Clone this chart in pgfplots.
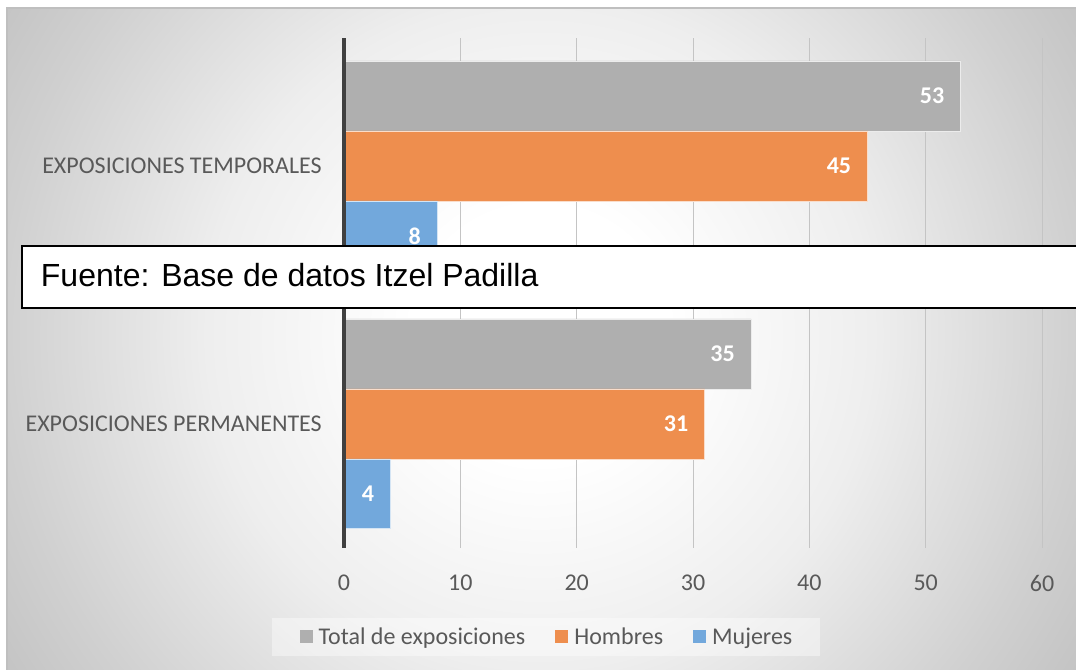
\documentclass[border=0pt]{standalone}
\usepackage{pgfplots}
\pgfplotsset{compat=1.18}
\usepackage{fontspec}
\setmainfont{Carlito}
\newfontfamily\arialf{Liberation Sans}
\definecolor{cgray}{RGB}{175,175,175}
\definecolor{corange}{RGB}{238,142,78}
\definecolor{cblue}{RGB}{114,168,220}
\definecolor{txt}{RGB}{89,89,89}
\definecolor{gridc}{RGB}{196,196,196}
\definecolor{axl}{RGB}{64,64,64}
\definecolor{framec}{RGB}{191,191,191}
\definecolor{bgA}{RGB}{238,238,238}
\definecolor{bgB}{RGB}{208,208,208}
\definecolor{bgC}{RGB}{195,195,195}
\pgfdeclareradialshading{bgshade}{\pgfpoint{0bp}{0bp}}{color(0bp)=(white); color(5bp)=(white); color(13bp)=(bgA); color(21bp)=(bgB); color(25bp)=(bgC); color(50bp)=(bgC)}
\begin{document}
\begin{tikzpicture}
\useasboundingbox (0,0) rectangle (807pt,502.5pt);
\fill[white] (0,0) rectangle (807pt,502.5pt);
\begin{scope}
\clip (5.25pt,0) rectangle (807pt,496.5pt);
\shade[shading=bgshade] (405pt,251.25pt) circle (480pt);
\end{scope}
\draw[framec, line width=1.2pt] (5.25pt,0) -- (5.25pt,496.5pt) -- (807pt,496.5pt);
\begin{axis}[
  at={(258pt,91.5pt)}, anchor=south west,
  scale only axis, width=523.5pt, height=382.5pt,
  xmin=0, xmax=60, ymin=-0.481, ymax=1.496,
  clip=false,
  xbar, bar width=0.2713,
  xtick={0,10,...,60}, ytick={0,1},
  yticklabels={EXPOSICIONES PERMANENTES, EXPOSICIONES TEMPORALES},
  /pgf/number format/assume math mode=true,
  axis line style={draw=none},
  major tick length=0pt, tick style={draw=none},
  xmajorgrids, major grid style={gridc, line width=0.75pt},
  tick label style={font=\fontsize{18}{21.6}\selectfont, text=txt, inner sep=0pt},
  xticklabel style={anchor=center, yshift=-26.25pt},
  yticklabel style={anchor=east, xshift=-16.5pt},
  nodes near coords,
  every node near coord/.append style={font=\fontsize{18}{21.6}\selectfont\bfseries, text=white, anchor=east, inner sep=0pt, xshift=-12pt},
  legend columns=-1,
  legend style={at={(0.2894,-0.1745)}, anchor=center, draw=none, fill=white, fill opacity=0.4, text opacity=1,
    font=\fontsize{18}{21.6}\selectfont, text=txt, inner xsep=21pt, inner ysep=7pt,
    nodes={inner sep=0pt},
    /tikz/every even column/.append style={column sep=22.5pt},
    /tikz/every odd column/.append style={column sep=4.5pt}},
  legend image code/.code={\fill[#1,draw=none,fill opacity=1] (0pt,-4.875pt) rectangle (9.75pt,4.875pt);},
]
\addplot[fill=cgray, draw=white!85!gray, line width=0.6pt, bar shift=0.2713] coordinates {(35,0) (53,1)};
\addplot[fill=corange, draw=white!70!corange, line width=0.6pt, bar shift=0] coordinates {(31,0) (45,1)};
\addplot[fill=cblue, draw=white!70!cblue, line width=0.6pt, bar shift=-0.2713] coordinates {(4,0) (8,1)};
\legend{Total de exposiciones, Hombres, Mujeres}
\draw[axl, line width=2.6pt] (axis cs:0,-0.481) -- (axis cs:0,1.496);
\end{axis}
\fill[white] (16.5pt,271.5pt) rectangle (807pt,318pt);
\draw[black, line width=0.9pt] (810pt,318pt) -- (16.5pt,318pt) -- (16.5pt,271.5pt) -- (810pt,271.5pt);
\node[anchor=base west, inner sep=0pt, font=\arialf\fontsize{24}{28}\selectfont] at (30.5pt,287.25pt) {Fuente: Base de datos Itzel Padilla};
\end{tikzpicture}
\end{document}
